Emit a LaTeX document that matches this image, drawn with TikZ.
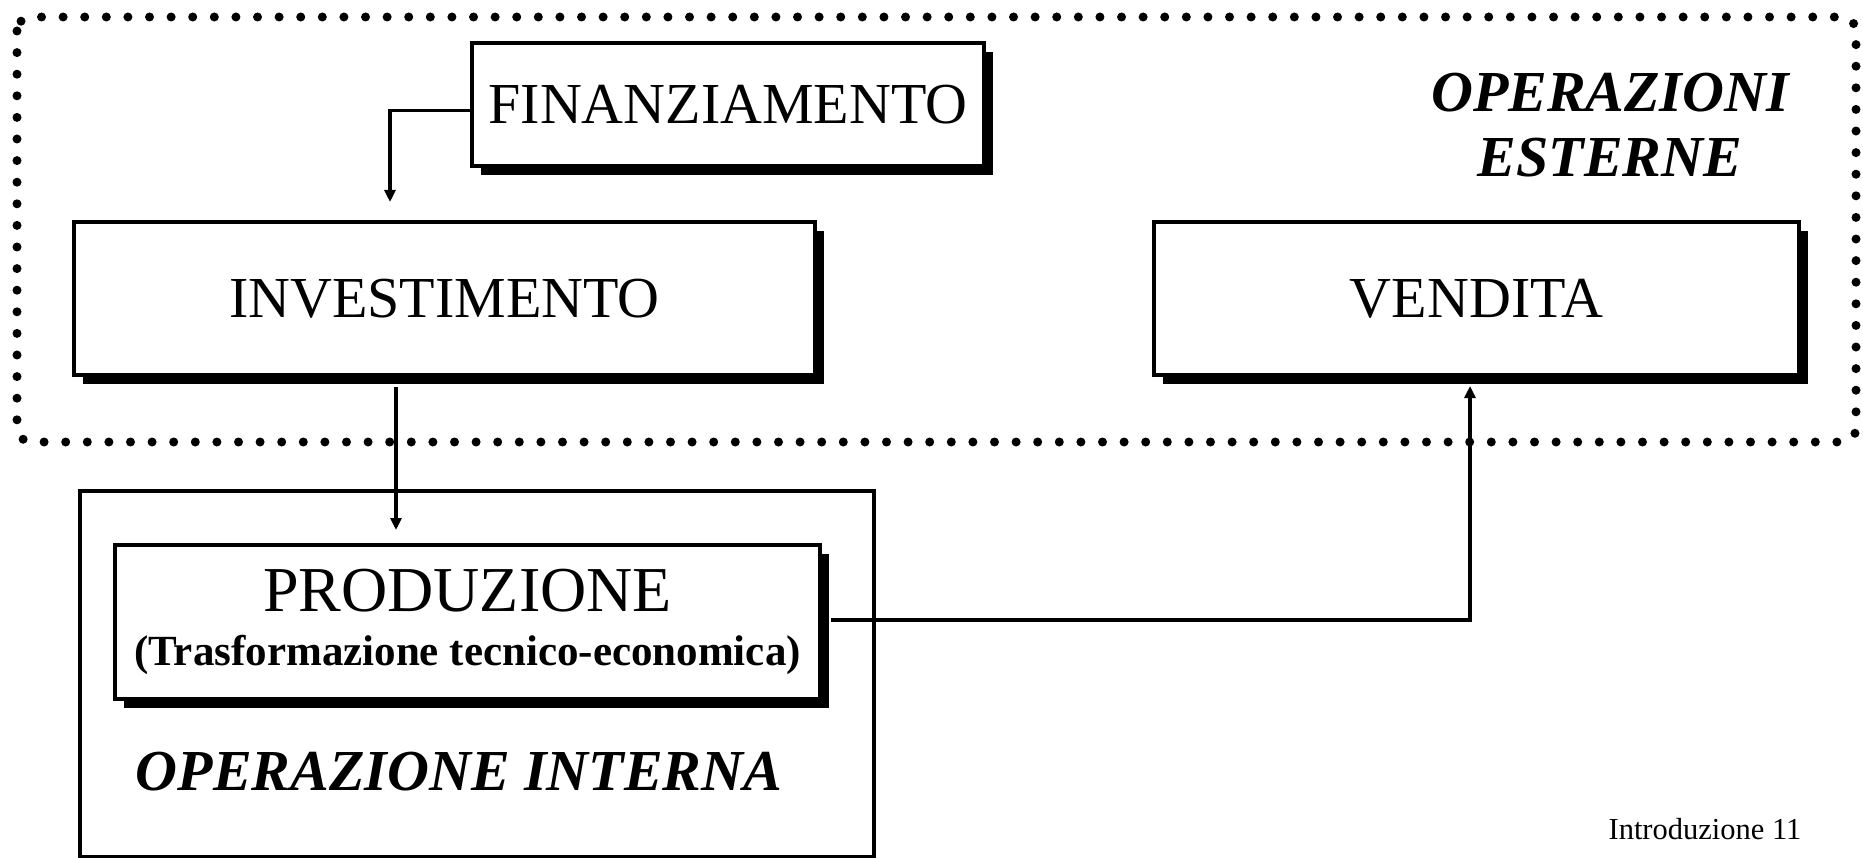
\documentclass[tikz,border=0pt]{standalone}
\usepackage{fontspec}
\setmainfont{Liberation Serif}
\usetikzlibrary{arrows.meta,shadows,calc}
\begin{document}
\begin{tikzpicture}[x=1pt,y=-1pt,
  box/.style={draw,line width=4.5pt,fill=white,rectangle,inner sep=0pt,align=center,
    font=\fontsize{58}{60}\selectfont,
    drop shadow={shadow xshift=9pt,shadow yshift=-9pt,opacity=1,fill=black}},
  plainbox/.style={draw,line width=3.5pt,rectangle,inner sep=0pt},
  conn/.style={line width=3.5pt},
  tip/.style={-{Triangle[length=12pt,width=11pt]}},
  title/.style={font=\fontsize{58}{65}\selectfont\bfseries\itshape,align=center,inner sep=0pt},
  border/.style={line width=9pt,line cap=round,dash pattern=on 0pt off 21.6pt,rounded corners=14pt}
]
\useasboundingbox (0,0) rectangle (1863,858);
\fill[white] (0,0) rectangle (1863,858);

% external operations region
\draw[border] (17,17) rectangle (1856,442);

% internal operation region
\node[plainbox,minimum width=794pt,minimum height=366pt] (intbox) at (477,674) {};

\node[box,minimum width=512pt,minimum height=123pt] (fin) at (728,104.5) {FINANZIAMENTO};
\node[box,minimum width=741pt,minimum height=153pt] (inv) at (444.5,298.5) {INVESTIMENTO};
\node[box,minimum width=645pt,minimum height=153pt] (vend) at (1476.5,298.5) {VENDITA};
\node[box,minimum width=705pt,minimum height=154pt] (prod) at (467.5,622)
  {{\fontsize{64}{60}\selectfont PRODUZIONE}\\[-6pt]{\bfseries\fontsize{43}{45}\selectfont (Trasformazione tecnico-economica)}};

\node[title] (ext) at (1610,125) {OPERAZIONI\\ESTERNE};
\node[title] (int) at (459,772) {OPERAZIONE INTERNA};
\node[font=\fontsize{30.5}{32}\selectfont,inner sep=0pt] (page) at (1705,829) {Introduzione 11};

% connectors
\coordinate (finend) at (390,202);
\coordinate (invout) at (396,387);
\coordinate (prodin) at (396,530);
\coordinate (vendin) at (1470,386);
\draw[conn,tip] ($(fin.west)+(0,6)$) -| (finend);
\draw[conn,tip] (invout) -- (prodin);
\draw[conn,tip] ($(prod.east)+(9,-2)$) -| (vendin);
\end{tikzpicture}
\end{document}
